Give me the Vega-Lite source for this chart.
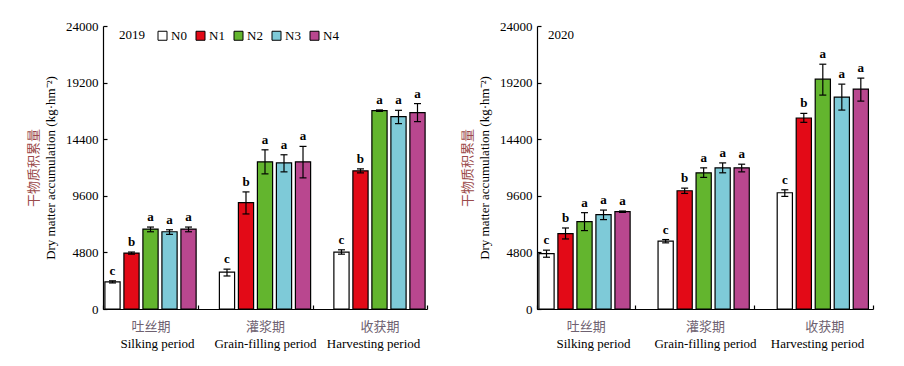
{
  "$schema": "https://vega.github.io/schema/vega-lite/v6.json",
  "padding": {"left": 27, "top": 20, "right": 5, "bottom": 5},
  "background": "white",
  "config": {
    "font": "Liberation Serif",
    "view": {"stroke": null},
    "axis": {"grid": false, "labelColor": "black", "domainColor": "black", "tickColor": "black", "titleColor": "black", "labelFont": "Liberation Serif", "titleFont": "Liberation Serif"}
  },
  "datasets": {
    "d": [
      {"year": 2019, "period": "Silking period", "trt": "N0", "value": 2300, "low": 2210, "high": 2390, "sig": "c"},
      {"year": 2019, "period": "Silking period", "trt": "N1", "value": 4740, "low": 4650, "high": 4830, "sig": "b"},
      {"year": 2019, "period": "Silking period", "trt": "N2", "value": 6780, "low": 6550, "high": 6950, "sig": "a"},
      {"year": 2019, "period": "Silking period", "trt": "N3", "value": 6550, "low": 6330, "high": 6720, "sig": "a"},
      {"year": 2019, "period": "Silking period", "trt": "N4", "value": 6780, "low": 6550, "high": 6950, "sig": "a"},
      {"year": 2019, "period": "Grain-filling period", "trt": "N0", "value": 3120, "low": 2800, "high": 3380, "sig": "c"},
      {"year": 2019, "period": "Grain-filling period", "trt": "N1", "value": 9020, "low": 8060, "high": 9930, "sig": "b"},
      {"year": 2019, "period": "Grain-filling period", "trt": "N2", "value": 12480, "low": 11460, "high": 13500, "sig": "a"},
      {"year": 2019, "period": "Grain-filling period", "trt": "N3", "value": 12400, "low": 11630, "high": 13080, "sig": "a"},
      {"year": 2019, "period": "Grain-filling period", "trt": "N4", "value": 12480, "low": 11120, "high": 13790, "sig": "a"},
      {"year": 2019, "period": "Harvesting period", "trt": "N0", "value": 4820, "low": 4650, "high": 5020, "sig": "c"},
      {"year": 2019, "period": "Harvesting period", "trt": "N1", "value": 11720, "low": 11550, "high": 11890, "sig": "b"},
      {"year": 2019, "period": "Harvesting period", "trt": "N2", "value": 16820, "low": 16760, "high": 16880, "sig": "a"},
      {"year": 2019, "period": "Harvesting period", "trt": "N3", "value": 16310, "low": 15720, "high": 16850, "sig": "a"},
      {"year": 2019, "period": "Harvesting period", "trt": "N4", "value": 16650, "low": 15890, "high": 17420, "sig": "a"},
      {"year": 2020, "period": "Silking period", "trt": "N0", "value": 4700, "low": 4390, "high": 4990, "sig": "c"},
      {"year": 2020, "period": "Silking period", "trt": "N1", "value": 6390, "low": 5940, "high": 6870, "sig": "b"},
      {"year": 2020, "period": "Silking period", "trt": "N2", "value": 7410, "low": 6650, "high": 8170, "sig": "a"},
      {"year": 2020, "period": "Silking period", "trt": "N3", "value": 8000, "low": 7580, "high": 8390, "sig": "a"},
      {"year": 2020, "period": "Silking period", "trt": "N4", "value": 8250, "low": 8190, "high": 8310, "sig": "a"},
      {"year": 2020, "period": "Grain-filling period", "trt": "N0", "value": 5750, "low": 5610, "high": 5890, "sig": "c"},
      {"year": 2020, "period": "Grain-filling period", "trt": "N1", "value": 10030, "low": 9800, "high": 10250, "sig": "b"},
      {"year": 2020, "period": "Grain-filling period", "trt": "N2", "value": 11550, "low": 11160, "high": 11970, "sig": "a"},
      {"year": 2020, "period": "Grain-filling period", "trt": "N3", "value": 11970, "low": 11550, "high": 12390, "sig": "a"},
      {"year": 2020, "period": "Grain-filling period", "trt": "N4", "value": 11970, "low": 11630, "high": 12280, "sig": "a"},
      {"year": 2020, "period": "Harvesting period", "trt": "N0", "value": 9860, "low": 9550, "high": 10110, "sig": "c"},
      {"year": 2020, "period": "Harvesting period", "trt": "N1", "value": 16200, "low": 15830, "high": 16590, "sig": "b"},
      {"year": 2020, "period": "Harvesting period", "trt": "N2", "value": 19490, "low": 18140, "high": 20760, "sig": "a"},
      {"year": 2020, "period": "Harvesting period", "trt": "N3", "value": 17970, "low": 16870, "high": 19070, "sig": "a"},
      {"year": 2020, "period": "Harvesting period", "trt": "N4", "value": 18650, "low": 17630, "high": 19580, "sig": "a"}
    ]
  },
  "data": {"name": "d"},
  "bounds": "flush",
  "spacing": 110,
  "resolve": {"scale": {"color": "independent"}, "legend": {"color": "independent"}},
  "hconcat": [
    {
      "width": 324,
      "height": 283,
      "title": {"text": "2019", "anchor": "start", "frame": "group", "dx": 16, "dy": 26, "fontSize": 13, "fontWeight": "normal", "font": "Liberation Serif", "color": "black"},
      "transform": [{"filter": "datum.year == 2019"}],
      "layer": [
        {
          "encoding": {
            "x": {"field": "period", "type": "nominal", "sort": null, "scale": {"paddingInner": 0.17, "paddingOuter": 0},
              "axis": {"title": null, "labelAngle": 0, "labelExpr": "datum.label == 'Silking period' ? '吐丝期' : datum.label == 'Grain-filling period' ? '灌浆期' : datum.label == 'Harvesting period' ? '收获期' : ''", "labelFont": "Noto Sans CJK SC", "labelColor": "#6e6170", "labelFontSize": 13, "labelPadding": 15, "tickSize": -4, "tickBand": "extent", "tickWidth": 1.2, "domainWidth": 1.2}},
            "xOffset": {"field": "trt", "type": "nominal", "sort": null, "scale": {"paddingInner": 0.2, "paddingOuter": 0.1}}
          },
          "layer": [
            {
              "mark": {"type": "bar", "stroke": "black", "strokeWidth": 1.2},
              "encoding": {
                "y": {"field": "value", "type": "quantitative", "title": "Dry matter accumulation (kg·hm⁻²)", "scale": {"domain": [0, 24000], "nice": false},
                  "axis": {"values": [0, 4800, 9600, 14400, 19200, 24000], "format": "d", "labelFontSize": 13, "labelPadding": 9, "tickSize": -4, "tickWidth": 1.2, "domainWidth": 1.2, "titleFontSize": 13, "titleFontWeight": "normal", "titlePadding": 8}},
                "color": {"field": "trt", "type": "nominal", "scale": {"domain": ["N0", "N1", "N2", "N3", "N4"], "range": ["#ffffff", "#e30a17", "#63b52e", "#7ecad8", "#b9478f"]},
                  "legend": {"orient": "none", "legendX": 53, "legendY": 3, "direction": "horizontal", "title": null, "symbolType": "square", "symbolSize": 81, "symbolStrokeColor": "black", "symbolStrokeWidth": 1, "symbolOpacity": 1, "labelFontSize": 13, "labelFont": "Liberation Serif", "labelColor": "black", "labelOffset": 2, "columnPadding": 7}}
              }
            },
            {
              "mark": {"type": "rule", "color": "black", "strokeWidth": 1.2},
              "encoding": {"y": {"field": "low", "type": "quantitative", "title": "Dry matter accumulation (kg·hm⁻²)"}, "y2": {"field": "high"}}
            },
            {
              "mark": {"type": "tick", "color": "black", "size": 7, "thickness": 1.2, "opacity": 1},
              "encoding": {"y": {"field": "low", "type": "quantitative", "title": "Dry matter accumulation (kg·hm⁻²)"}}
            },
            {
              "mark": {"type": "tick", "color": "black", "size": 7, "thickness": 1.2, "opacity": 1},
              "encoding": {"y": {"field": "high", "type": "quantitative", "title": "Dry matter accumulation (kg·hm⁻²)"}}
            },
            {
              "mark": {"type": "text", "dy": -6, "baseline": "alphabetic", "fontSize": 13, "fontWeight": "bold", "font": "Liberation Serif", "color": "black"},
              "encoding": {"y": {"field": "high", "type": "quantitative", "title": "Dry matter accumulation (kg·hm⁻²)"}, "text": {"field": "sig"}}
            }
          ]
        },
        {
          "mark": {"type": "point", "opacity": 0},
          "encoding": {
            "x": {"field": "period", "type": "nominal", "sort": null, "scale": {"paddingInner": 0.17, "paddingOuter": 0},
              "axis": {"orient": "bottom", "title": null, "labelAngle": 0, "domain": false, "ticks": false, "labelPadding": 28, "labelFontSize": 13}},
            "y": {"field": "value", "type": "quantitative", "scale": {"domain": [0, 24000], "nice": false},
              "axis": {"orient": "left", "labels": false, "ticks": false, "domain": false, "title": "干物质积累量", "titleFont": "Noto Sans CJK SC", "titleColor": "#9a4a4a", "titlePadding": 63, "titleFontSize": 13, "titleFontWeight": "normal"}}
          }
        }
      ],
      "resolve": {"scale": {"x": "independent", "y": "independent"}}
    },
    {
      "width": 336,
      "height": 283,
      "title": {"text": "2020", "anchor": "start", "frame": "group", "dx": 11, "dy": 26, "fontSize": 13, "fontWeight": "normal", "font": "Liberation Serif", "color": "black"},
      "transform": [{"filter": "datum.year == 2020"}],
      "layer": [
        {
          "encoding": {
            "x": {"field": "period", "type": "nominal", "sort": null, "scale": {"paddingInner": 0.18, "paddingOuter": 0},
              "axis": {"title": null, "labelAngle": 0, "labelExpr": "datum.label == 'Silking period' ? '吐丝期' : datum.label == 'Grain-filling period' ? '灌浆期' : datum.label == 'Harvesting period' ? '收获期' : ''", "labelFont": "Noto Sans CJK SC", "labelColor": "#6e6170", "labelFontSize": 13, "labelPadding": 15, "tickSize": -4, "tickBand": "extent", "tickWidth": 1.2, "domainWidth": 1.2}},
            "xOffset": {"field": "trt", "type": "nominal", "sort": null, "scale": {"paddingInner": 0.2, "paddingOuter": 0.1}}
          },
          "layer": [
            {
              "mark": {"type": "bar", "stroke": "black", "strokeWidth": 1.2},
              "encoding": {
                "y": {"field": "value", "type": "quantitative", "title": "Dry matter accumulation (kg·hm⁻²)", "scale": {"domain": [0, 24000], "nice": false},
                  "axis": {"values": [0, 4800, 9600, 14400, 19200, 24000], "format": "d", "labelFontSize": 13, "labelPadding": 9, "tickSize": -4, "tickWidth": 1.2, "domainWidth": 1.2, "titleFontSize": 13, "titleFontWeight": "normal", "titlePadding": 8}},
                "color": {"field": "trt", "type": "nominal", "scale": {"domain": ["N0", "N1", "N2", "N3", "N4"], "range": ["#ffffff", "#e30a17", "#63b52e", "#7ecad8", "#b9478f"]}, "legend": null}
              }
            },
            {
              "mark": {"type": "rule", "color": "black", "strokeWidth": 1.2},
              "encoding": {"y": {"field": "low", "type": "quantitative", "title": "Dry matter accumulation (kg·hm⁻²)"}, "y2": {"field": "high"}}
            },
            {
              "mark": {"type": "tick", "color": "black", "size": 7, "thickness": 1.2, "opacity": 1},
              "encoding": {"y": {"field": "low", "type": "quantitative", "title": "Dry matter accumulation (kg·hm⁻²)"}}
            },
            {
              "mark": {"type": "tick", "color": "black", "size": 7, "thickness": 1.2, "opacity": 1},
              "encoding": {"y": {"field": "high", "type": "quantitative", "title": "Dry matter accumulation (kg·hm⁻²)"}}
            },
            {
              "mark": {"type": "text", "dy": -6, "baseline": "alphabetic", "fontSize": 13, "fontWeight": "bold", "font": "Liberation Serif", "color": "black"},
              "encoding": {"y": {"field": "high", "type": "quantitative", "title": "Dry matter accumulation (kg·hm⁻²)"}, "text": {"field": "sig"}}
            }
          ]
        },
        {
          "mark": {"type": "point", "opacity": 0},
          "encoding": {
            "x": {"field": "period", "type": "nominal", "sort": null, "scale": {"paddingInner": 0.18, "paddingOuter": 0},
              "axis": {"orient": "bottom", "title": null, "labelAngle": 0, "domain": false, "ticks": false, "labelPadding": 28, "labelFontSize": 13}},
            "y": {"field": "value", "type": "quantitative", "scale": {"domain": [0, 24000], "nice": false},
              "axis": {"orient": "left", "labels": false, "ticks": false, "domain": false, "title": "干物质积累量", "titleFont": "Noto Sans CJK SC", "titleColor": "#9a4a4a", "titlePadding": 63, "titleFontSize": 13, "titleFontWeight": "normal"}}
          }
        }
      ],
      "resolve": {"scale": {"x": "independent", "y": "independent"}}
    }
  ]
}
